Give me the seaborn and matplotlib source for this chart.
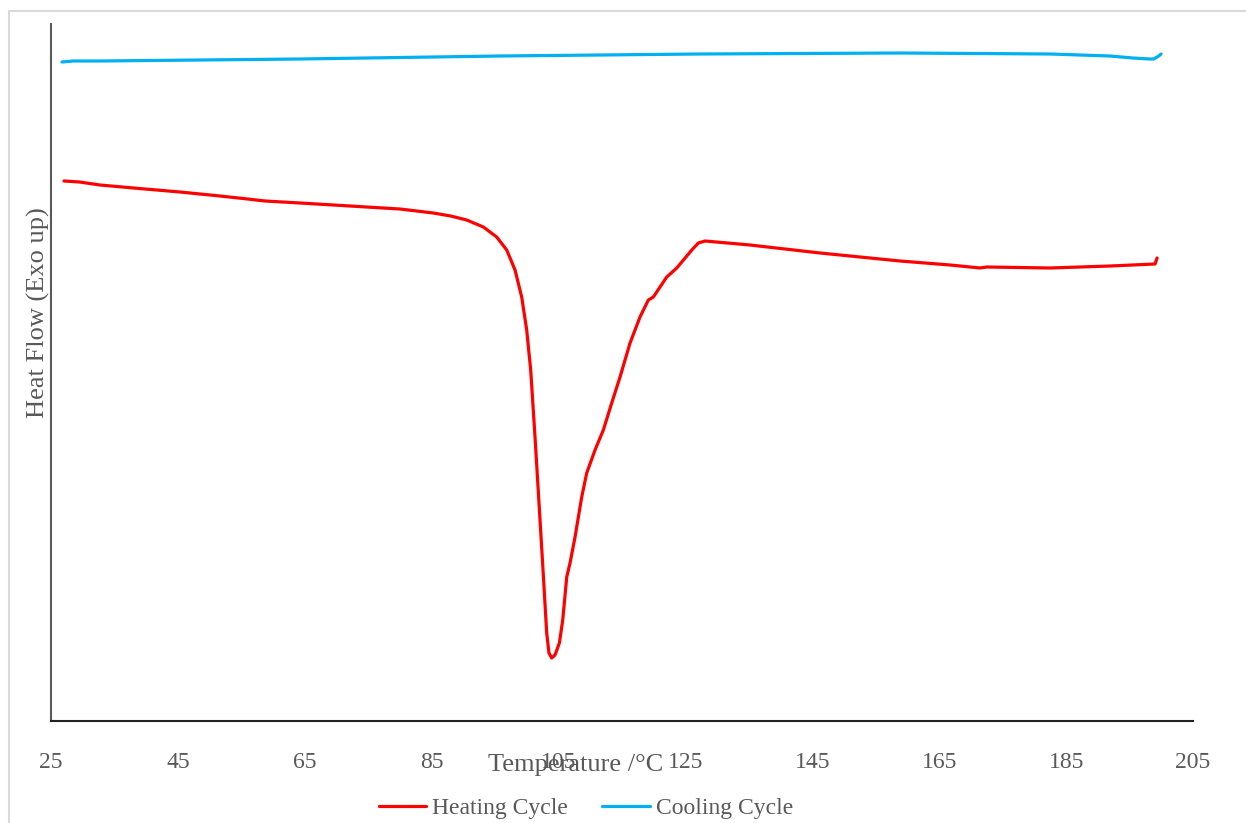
import numpy as np
import pandas as pd
import seaborn as sns
import matplotlib.pyplot as plt
from matplotlib.lines import Line2D

# Heating cycle (temperature in °C, heat flow in arbitrary units, exo up)
heat_T = [27.05, 29.5, 32.72, 38.0, 45.33, 51.64, 56.0, 58.73, 64.25, 72.13, 80.01,
          85.26, 88.0, 90.52, 93.14, 95.25, 96.83, 98.14, 99.19, 99.98, 100.61,
          101.29, 102.08, 102.71, 103.13, 103.49, 103.92, 104.44, 105.13, 105.66,
          106.29, 106.81, 107.60, 108.65, 109.44, 110.75, 112.06, 113.38, 114.69,
          116.27, 117.84, 119.15, 119.94, 122.05, 123.63, 126.0, 127.03, 128.09,
          135.18, 146.22, 158.83, 166.71, 171.44, 172.5, 182.47, 191.93, 199.02, 199.34]
heat_Q = [5.40, 5.39, 5.36, 5.33, 5.29, 5.25, 5.22, 5.20, 5.18, 5.15, 5.12,
          5.08, 5.05, 5.01, 4.94, 4.84, 4.71, 4.51, 4.24, 3.91, 3.51,
          2.84, 2.01, 1.34, 0.88, 0.68, 0.63, 0.66, 0.78, 1.01,
          1.44, 1.58, 1.84, 2.24, 2.48, 2.71, 2.91, 3.18, 3.44,
          3.78, 4.04, 4.21, 4.24, 4.44, 4.53, 4.71, 4.78, 4.80,
          4.76, 4.68, 4.60, 4.56, 4.53, 4.54, 4.53, 4.55, 4.57, 4.63]

# Cooling cycle
cool_T = [199.97, 199.6, 199.34, 198.8, 198.23, 195.5, 191.93, 182.47, 158.83, 127.30,
          95.78, 64.25, 32.72, 28.5, 26.73]
cool_Q = [6.67, 6.65, 6.64, 6.62, 6.62, 6.63, 6.65, 6.67, 6.68, 6.67,
          6.65, 6.62, 6.60, 6.60, 6.59]

x_ticks = [25, 45, 65, 85, 105, 125, 145, 165, 185, 205]

sns.set_theme(style="white")
plt.rcParams['font.family'] = ['Liberation Serif', 'DejaVu Serif']

fig = plt.figure(figsize=(12.46, 8.23), dpi=100)
ax = fig.add_axes([51/1246, 1 - 721/823, (1193 - 51)/1246, (721 - 24)/823])

heat_df = pd.DataFrame({"T": heat_T, "Q": heat_Q})
cool_df = pd.DataFrame({"T": cool_T, "Q": cool_Q})
sns.lineplot(data=heat_df, x="T", y="Q", sort=False, color="#FF0000", lw=2.3, ax=ax,
             solid_joinstyle='round', solid_capstyle='round')
sns.lineplot(data=cool_df, x="T", y="Q", sort=False, color="#00B0F0", lw=2.3, ax=ax,
             solid_joinstyle='round', solid_capstyle='round')

ax.set_xlim(25, 205)
ax.set_ylim(0, 6.97)
ax.set_xticks(x_ticks)
ax.set_xticklabels([str(t) for t in x_ticks])
ax.set_yticks([])
ax.set_xlabel("")
ax.set_ylabel("")
ax.tick_params(axis='x', direction='in', length=5, width=1.3, color='#222222',
               labelsize=17, labelcolor='#595959', pad=22)
for s in ['top', 'right']:
    ax.spines[s].set_visible(False)
ax.spines['bottom'].set_color('#222222')
ax.spines['bottom'].set_linewidth(1.5)
ax.spines['left'].set_color('#595959')
ax.spines['left'].set_linewidth(1.5)

fig.text(576/1246, 1 - 765/823, "Temperature /°C", ha='center', va='center',
         fontsize=19, color='#595959')
fig.text(38/1246, 1 - 313/823, "Heat Flow (Exo up)", ha='center', va='center',
         rotation=90, fontsize=19, color='#595959')

handles = [Line2D([], [], color="#FF0000", lw=2.3),
           Line2D([], [], color="#00B0F0", lw=2.3)]
fig.legend(handles, ["Heating Cycle", "Cooling Cycle"], loc='center',
           bbox_to_anchor=(586/1246, 1 - 808/823), ncol=2, frameon=False,
           fontsize=17, labelcolor='#595959', handlelength=2.0, handletextpad=0.25,
           columnspacing=1.45)

# light grey chart-area border (top and left edges visible)
fig.add_artist(Line2D([9/1246, 9/1246], [0, 1 - 11/823], transform=fig.transFigure,
                      color='#D9D9D9', lw=1.5))
fig.add_artist(Line2D([9/1246, 1], [1 - 11/823, 1 - 11/823], transform=fig.transFigure,
                      color='#D9D9D9', lw=1.5))

fig.savefig("out.png", dpi=100)
